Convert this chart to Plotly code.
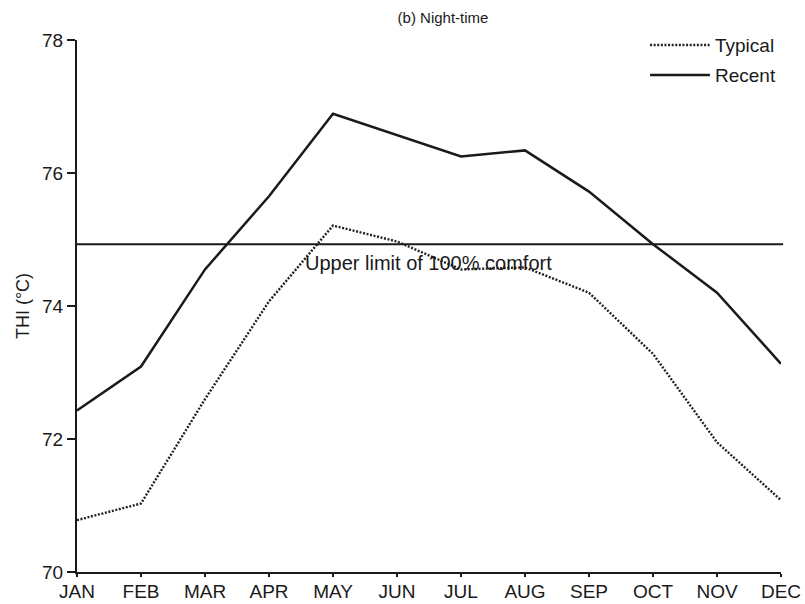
import plotly.graph_objects as go

months = ["JAN", "FEB", "MAR", "APR", "MAY", "JUN", "JUL", "AUG", "SEP", "OCT", "NOV", "DEC"]
typical = [70.78, 71.03, 72.60, 74.07, 75.21, 74.97, 74.55, 74.58, 74.20, 73.28, 71.95, 71.08]
recent = [72.43, 73.09, 74.55, 75.65, 76.89, 76.57, 76.25, 76.34, 75.72, 74.93, 74.20, 73.13]
comfort_limit = 74.93
y_ticks = [70, 72, 74, 76, 78]
series_names = ["Typical", "Recent"]

FONT = "Liberation Sans, Arial, sans-serif"
INK = "#1a1a1a"
TYP_COLOR = "#222222"
TYP_DASH = "2px,1.6px"

W, H = 805, 604

fig = go.Figure()
fig.add_trace(go.Scatter(x=months, y=typical, mode="lines", name=series_names[0],
                         line=dict(color=TYP_COLOR, width=2.4, dash=TYP_DASH)))
fig.add_trace(go.Scatter(x=months, y=recent, mode="lines", name=series_names[1],
                         line=dict(color=INK, width=2.5)))

# comfort threshold line
fig.add_shape(type="line", xref="paper", yref="y", x0=0, x1=1.003,
              y0=comfort_limit, y1=comfort_limit, line=dict(color=INK, width=2))
fig.add_annotation(xref="paper", x=0.4986, y=comfort_limit, yshift=-19,
                   text="Upper limit of 100% comfort", showarrow=False,
                   font=dict(family=FONT, size=20, color=INK))

# legend drawn as line samples + labels (top right)
leg_rows = [0.9906, 0.934]
leg_styles = [dict(color=TYP_COLOR, width=2.4, dash=TYP_DASH), dict(color=INK, width=2.5)]
for name, yy, st in zip(series_names, leg_rows, leg_styles):
    fig.add_shape(type="line", xref="paper", yref="paper", x0=0.814, x1=0.899,
                  y0=yy, y1=yy, line=st)
    fig.add_annotation(xref="paper", yref="paper", x=0.903, y=yy, xanchor="left",
                       yanchor="middle", text=name, showarrow=False,
                       font=dict(family=FONT, size=19, color=INK))

fig.update_layout(
    width=W, height=H,
    margin=dict(l=77, r=24, t=40, b=32),
    paper_bgcolor="white", plot_bgcolor="white",
    font=dict(family=FONT, size=19, color=INK),
    title=dict(text="(b) Night-time", x=443 / W, xanchor="center", y=1 - 18 / H,
               yanchor="middle", font=dict(family=FONT, size=15, color=INK)),
    showlegend=False,
)
fig.update_xaxes(type="category", range=[0, 11], showline=True, linecolor=INK, linewidth=2,
                 ticks="outside", ticklen=3, tickwidth=1.5, tickcolor=INK, showgrid=False,
                 zeroline=False, automargin=False, ticklabelstandoff=-2,
                 tickfont=dict(family=FONT, size=19, color=INK))
fig.update_yaxes(range=[70, 78], tickvals=y_ticks, showline=True, linecolor=INK, linewidth=2,
                 ticks="outside", ticklen=8, tickwidth=1.5, tickcolor=INK, showgrid=False,
                 zeroline=False, automargin=True,
                 tickfont=dict(family=FONT, size=19, color=INK),
                 title=dict(text="THI (°C)", standoff=8,
                            font=dict(family=FONT, size=18, color=INK)))

fig.write_html("out.html", config={"displayModeBar": False},
               post_script="document.body.style.margin='0';document.body.style.overflow='hidden';")
